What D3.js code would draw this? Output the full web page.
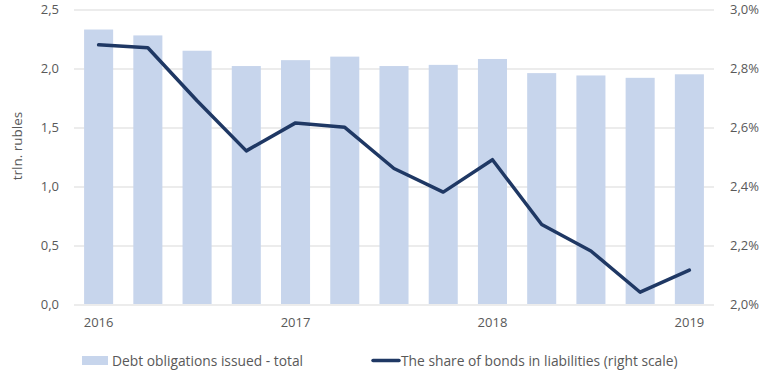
<!DOCTYPE html>
<html>
<head>
<meta charset="utf-8">
<script src="https://cdn.jsdelivr.net/npm/d3@7"></script>
<style>
  body { margin: 0; background: #fff; }
  text { font-family: "Open Sans", "Noto Sans", sans-serif; fill: #595959; }
</style>
</head>
<body>
<div id="chart"></div>
<script>
// Data
var periods = ["2016", "", "", "", "2017", "", "", "", "2018", "", "", "", "2019"];
var debtIssued = [2.33, 2.28, 2.15, 2.02, 2.07, 2.10, 2.02, 2.03, 2.08, 1.96, 1.94, 1.92, 1.95];
var bondShare = [2.88, 2.87, 2.69, 2.52, 2.615, 2.60, 2.46, 2.38, 2.49, 2.27, 2.18, 2.04, 2.115];
var leftTicks = [0, 0.5, 1.0, 1.5, 2.0, 2.5];
var rightTicks = [2.0, 2.2, 2.4, 2.6, 2.8, 3.0];

var svgWidth = 766;
var svgHeight = 382;

var margin = { top: 9.5, right: 52, bottom: 78, left: 74 };
var width = svgWidth - margin.left - margin.right;
var height = svgHeight - margin.top - margin.bottom;

var svg = d3.select("#chart")
  .append("svg")
  .attr("width", svgWidth)
  .attr("height", svgHeight);

var chartGroup = svg.append("g")
  .attr("transform", `translate(${margin.left}, ${margin.top})`);

var idx = d3.range(periods.length);

// Scales
var xBand = d3.scaleBand()
  .domain(idx)
  .range([0, width])
  .paddingInner(0.41)
  .paddingOuter(0.205);

var yLeft = d3.scaleLinear().domain([0, 2.5]).range([height, 0]);
var yRight = d3.scaleLinear().domain([2.0, 3.0]).range([height, 0]);

var fmt = d3.format(".1f");

// Gridlines
chartGroup.selectAll(".grid")
  .data(leftTicks.slice(1))
  .enter()
  .append("line")
  .attr("x1", 0)
  .attr("x2", width)
  .attr("y1", d => Math.round(yLeft(d)) + 0.5)
  .attr("y2", d => Math.round(yLeft(d)) + 0.5)
  .attr("stroke", "#d9d9d9")
  .attr("stroke-width", 1);

// Bars
chartGroup.selectAll(".bar")
  .data(debtIssued)
  .enter()
  .append("rect")
  .attr("x", (d, i) => xBand(i))
  .attr("y", d => yLeft(d))
  .attr("width", xBand.bandwidth())
  .attr("height", d => height - yLeft(d))
  .attr("fill", "#c7d5ec");

// Bottom axis line
chartGroup.append("line")
  .attr("x1", 0)
  .attr("x2", width)
  .attr("y1", Math.round(height) + 0.5)
  .attr("y2", Math.round(height) + 0.5)
  .attr("stroke", "#d9d9d9");

// Line
var line = d3.line()
  .x((d, i) => xBand(i) + xBand.bandwidth() / 2)
  .y(d => yRight(d));

chartGroup.append("path")
  .datum(bondShare)
  .attr("d", line)
  .attr("fill", "none")
  .attr("stroke", "#1f3864")
  .attr("stroke-width", 3.5)
  .attr("stroke-linejoin", "round")
  .attr("stroke-linecap", "round");

// Left axis
var leftAxis = d3.axisLeft(yLeft)
  .tickValues(leftTicks)
  .tickSize(0)
  .tickPadding(15)
  .tickFormat(d => fmt(d).replace(".", ","));

chartGroup.append("g")
  .call(leftAxis)
  .call(g => g.select(".domain").remove())
  .selectAll("text")
  .attr("font-size", "13px")
  .style("font-family", "'Open Sans', sans-serif")
  .attr("fill", "#595959");

// Right axis
var rightAxis = d3.axisRight(yRight)
  .tickValues(rightTicks)
  .tickSize(0)
  .tickPadding(16)
  .tickFormat(d => fmt(d).replace(".", ",") + "%");

chartGroup.append("g")
  .attr("transform", `translate(${width}, 0)`)
  .call(rightAxis)
  .call(g => g.select(".domain").remove())
  .selectAll("text")
  .attr("font-size", "13px")
  .style("font-family", "'Open Sans', sans-serif")
  .attr("fill", "#595959");

// Bottom axis
var bottomAxis = d3.axisBottom(xBand)
  .tickSize(0)
  .tickPadding(14)
  .tickFormat(i => periods[i]);

chartGroup.append("g")
  .attr("transform", `translate(0, ${height})`)
  .call(bottomAxis)
  .call(g => g.select(".domain").remove())
  .selectAll("text")
  .attr("font-size", "13px")
  .style("font-family", "'Open Sans', sans-serif")
  .attr("fill", "#595959");

// Y axis title
svg.append("text")
  .attr("transform", "translate(22, 146) rotate(-90)")
  .attr("text-anchor", "middle")
  .attr("font-size", "13.5px")
  .text("trln. rubles");

// Legend
var legend = svg.append("g");
legend.append("rect")
  .attr("x", 82)
  .attr("y", 356)
  .attr("width", 26)
  .attr("height", 9)
  .attr("fill", "#c7d5ec");
legend.append("text")
  .attr("x", 112)
  .attr("y", 365.5)
  .attr("font-size", "13.8px")
  .text("Debt obligations issued - total");

legend.append("line")
  .attr("x1", 373)
  .attr("x2", 399)
  .attr("y1", 360.5)
  .attr("y2", 360.5)
  .attr("stroke", "#1f3864")
  .attr("stroke-width", 3.5)
  .attr("stroke-linecap", "round");
legend.append("text")
  .attr("x", 401)
  .attr("y", 365.5)
  .attr("font-size", "13.8px")
  .text("The share of bonds in liabilities (right scale)");
</script>
</body>
</html>
